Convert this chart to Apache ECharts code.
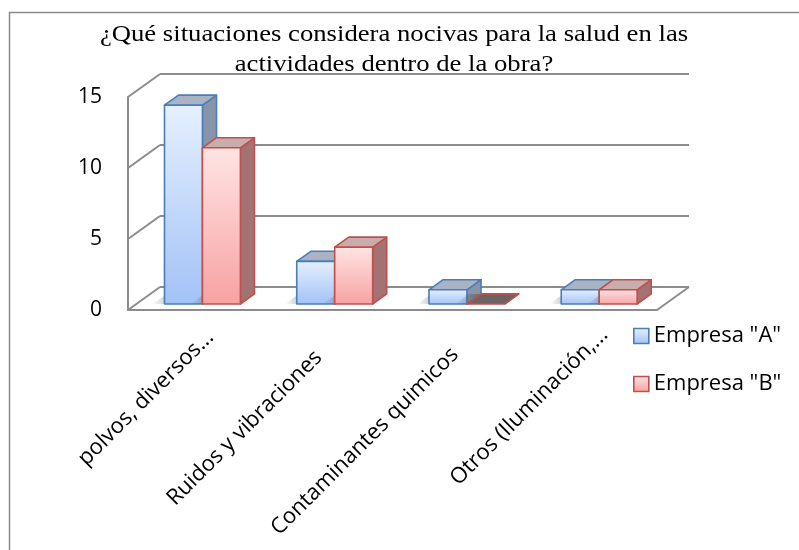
<!DOCTYPE html>
<html>
<head>
<meta charset="utf-8">
<script src="https://cdn.jsdelivr.net/npm/echarts@6/dist/echarts.min.js"></script>
<style>
  html, body { margin: 0; padding: 0; background: #ffffff; }
  #chart { width: 799px; height: 550px; }
</style>
</head>
<body>
<div id="chart"></div>
<script>
// ---- data ----
const categories = ['polvos, diversos...', 'Ruidos y vibraciones', 'Contaminantes quimicos', 'Otros (Iluminación,...'];
const empresaA = [14, 3, 1, 1];
const empresaB = [11, 4, 0, 1];
const seriesNames = ['Empresa "A"', 'Empresa "B"'];
const valueTicks = [0, 5, 10, 15];
const titleLines = ['¿Qué situaciones considera nocivas para la salud en las', 'actividades dentro de la obra?'];

// ---- 3D look ----
const DX = 32, DY = -23;          // depth direction of the box
const F0 = 0.26, F1 = 0.70;       // bar front / back depth fraction
const BAR_FRAC = 0.287;           // bar width as part of a category band
const GRID_COLOR = '#8c8c8c';
const labelShift = [0, 31, 26, 0];    // nudges along the slanted category labels
const labelDrop = [45, 40, 42, 38];   // nudges across the slanted category labels

const palettes = [
  { front: ['#e6f0ff', '#a2c2f6'], top: '#a9b3c4', side: '#8894a8', edge: '#4a7ebb', flat: '#6a7486' },
  { front: ['#ffe4e4', '#f7a2a2'], top: '#c9adad', side: '#a37373', edge: '#c0504d', flat: '#6e6262' }
];

// one rich style per category label, carrying its own offsets
const labelRich = {};
categories.forEach((c, i) => {
  labelRich['c' + i] = {
    fontFamily: 'Open Sans',
    fontSize: 22,
    color: '#000000',
    padding: [labelDrop[i], labelShift[i], 0, 0]
  };
});

function seg(x1, y1, x2, y2) {
  return {
    type: 'line',
    shape: { x1, y1, x2, y2 },
    style: { stroke: GRID_COLOR, lineWidth: 2 }
  };
}

// walls: left-side diagonals, back gridlines and the floor edges
function renderWall(params, api) {
  const cs = params.coordSys;
  const v = api.value(1);
  const y = api.coord([0, v])[1];
  const L = cs.x, R = cs.x + cs.width;
  const children = [
    seg(L, y, L + DX, y + DY),
    seg(L + DX, y + DY, R + DX, y + DY)
  ];
  if (v === 0) children.push(seg(R, y, R + DX, y + DY));
  return { type: 'group', children };
}

function barRenderer(slot) {
  const pal = palettes[slot];
  return function (params, api) {
    const ci = api.value(0), v = api.value(1);
    const base = api.coord([ci, 0]);
    const top = api.coord([ci, v]);
    const w = api.size([1, 0])[0] * BAR_FRAC;
    const x0 = base[0] + DX * F0 + (slot - 1) * w;
    const yb = base[1] + DY * F0;
    const yt = top[1] + DY * F0;
    const dx = DX * (F1 - F0), dy = DY * (F1 - F0);
    const edge = { stroke: pal.edge, lineWidth: 1.6, lineJoin: 'round' };
    const children = [];
    // soft floor shadow on the left
    children.push({
      type: 'polygon',
      shape: { points: [[x0 - 12, yb], [x0, yb], [x0 + dx, yb + dy], [x0 + dx - 12, yb + dy]] },
      style: {
        fill: { type: 'linear', x: 0, y: 0, x2: 1, y2: 0,
          colorStops: [{ offset: 0, color: 'rgba(80,80,80,0)' }, { offset: 1, color: 'rgba(80,80,80,0.55)' }] }
      },
      silent: true
    });
    if (v === 0) {
      children.push({
        type: 'polygon',
        shape: { points: [[x0, yb], [x0 + w, yb], [x0 + w + dx, yb + dy], [x0 + dx, yb + dy]] },
        style: Object.assign({ fill: pal.flat }, edge)
      });
      return { type: 'group', children };
    }
    children.push({
      type: 'polygon',
      shape: { points: [[x0 + w, yt], [x0 + w + dx, yt + dy], [x0 + w + dx, yb + dy], [x0 + w, yb]] },
      style: Object.assign({ fill: pal.side }, edge)
    });
    children.push({
      type: 'polygon',
      shape: { points: [[x0, yt], [x0 + w, yt], [x0 + w + dx, yt + dy], [x0 + dx, yt + dy]] },
      style: Object.assign({ fill: pal.top }, edge)
    });
    children.push({
      type: 'rect',
      shape: { x: x0, y: yt, width: w, height: yb - yt },
      style: Object.assign({
        fill: { type: 'linear', x: 0, y: 0, x2: 0, y2: 1,
          colorStops: [{ offset: 0, color: pal.front[0] }, { offset: 1, color: pal.front[1] }] }
      }, edge)
    });
    return { type: 'group', children };
  };
}

const chart = echarts.init(document.getElementById('chart'), null, { renderer: 'canvas' });

const option = {
  animation: false,
  backgroundColor: '#ffffff',
  graphic: [
    {
      type: 'rect',
      shape: { x: 9.5, y: 12.5, width: 820, height: 580 },
      style: { fill: 'none', stroke: '#8a8a8a', lineWidth: 1.5 },
      silent: true
    },
    {
      type: 'text',
      x: 394, y: 20,
      scaleX: 1.16,
      style: {
        text: titleLines.join('\n'),
        font: '23px "Liberation Serif"',
        fill: '#000000',
        textAlign: 'center',
        textVerticalAlign: 'top',
        lineHeight: 30
      },
      silent: true
    }
  ],
  legend: {
    orient: 'vertical',
    left: 628,
    top: 319,
    itemWidth: 15,
    itemHeight: 15,
    itemGap: 24,
    selectedMode: false,
    textStyle: { fontFamily: 'Open Sans', fontSize: 22, color: '#000', lineHeight: 24 },
    data: [
      { name: seriesNames[0], icon: 'rect', itemStyle: {
        color: { type: 'linear', x: 0, y: 0, x2: 0, y2: 1, colorStops: [{ offset: 0, color: '#e6f0ff' }, { offset: 1, color: '#a2c2f6' }] },
        borderColor: '#4a7ebb', borderWidth: 1.6 } },
      { name: seriesNames[1], icon: 'rect', itemStyle: {
        color: { type: 'linear', x: 0, y: 0, x2: 0, y2: 1, colorStops: [{ offset: 0, color: '#ffe4e4' }, { offset: 1, color: '#f7a2a2' }] },
        borderColor: '#c0504d', borderWidth: 1.6 } }
    ]
  },
  grid: {
    left: 128, top: 97, width: 529, height: 213,
    containLabel: false,
    outerBoundsMode: 'none'
  },
  xAxis: {
    type: 'category',
    data: categories,
    axisLine: { show: true, lineStyle: { color: GRID_COLOR, width: 2 } },
    axisTick: { show: false },
    splitLine: { show: false },
    axisLabel: {
      interval: 0,
      rotate: 45,
      margin: 8,
      fontFamily: 'Open Sans',
      fontSize: 22,
      color: '#000000',
      formatter: (value, index) => '{c' + index + '|' + value + '}',
      rich: labelRich
    }
  },
  yAxis: {
    type: 'value',
    min: 0, max: 15, interval: 5,
    axisLine: { show: true, lineStyle: { color: GRID_COLOR, width: 2 } },
    axisTick: { show: false },
    splitLine: { show: false },
    axisLabel: {
      margin: 26,
      fontFamily: 'Open Sans',
      fontSize: 21,
      color: '#000000',
      padding: [6, 0, 0, 0]
    }
  },
  series: [
    {
      type: 'custom',
      name: 'walls',
      renderItem: renderWall,
      data: valueTicks.map(v => [0, v]),
      silent: true,
      z: 1
    },
    {
      type: 'custom',
      name: seriesNames[0],
      renderItem: barRenderer(0),
      data: empresaA.map((v, i) => [i, v]),
      itemStyle: { color: '#a2c2f6', borderColor: '#4a7ebb' },
      z: 3
    },
    {
      type: 'custom',
      name: seriesNames[1],
      renderItem: barRenderer(1),
      data: empresaB.map((v, i) => [i, v]),
      itemStyle: { color: '#f7a2a2', borderColor: '#c0504d' },
      z: 3
    }
  ]
};

chart.setOption(option);
</script>
</body>
</html>
